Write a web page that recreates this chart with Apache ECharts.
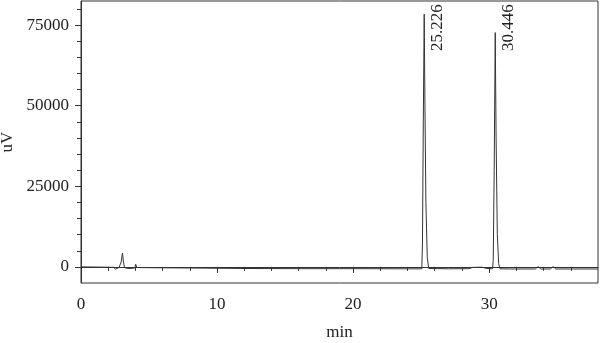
<!DOCTYPE html>
<html>
<head>
<meta charset="utf-8">
<script src="https://cdn.jsdelivr.net/npm/echarts@6/dist/echarts.min.js"></script>
<style>html,body{margin:0;padding:0;background:#fff}#c{width:600px;height:343px}</style>
</head>
<body>
<div id="c"></div>
<script>
// retention time (min)
var times = [0, 1, 2, 2.4, 2.55, 2.65, 2.8, 2.95, 3.05, 3.12, 3.2, 3.4, 3.8, 3.95, 4.02, 4.1, 5, 8, 12, 16, 20, 24,
  25.05, 25.1, 25.16, 25.226, 25.28, 25.35, 25.45, 25.56, 25.7, 27, 28.5, 28.8, 29.5, 29.8, 30.25,
  30.3, 30.37, 30.446, 30.51, 30.6, 30.7, 30.8, 31.5, 33.4, 33.6, 33.8, 34.5, 34.7, 34.9, 36, 38];
// detector signal (uV)
var signal = [0, -50, -100, -150, -700, -200, -150, 1500, 4300, 1500, -200, -500, -450, -300, 800, -200, -250, -350, -500, -550, -550, -600,
  -600, 8000, 45000, 78400, 50000, 20000, 3000, -500, -600, -600, -550, -150, -100, -500, -600,
  2000, 30000, 72700, 40000, 10000, 1000, -600, -650, -650, 100, -650, -650, 100, -650, -650, -650];
var peakTimes = [25.226, 30.446];
var peakLabels = ['25.226', '30.446'];
var peakLabelLevel = 74200;
var yMajor = [0, 25000, 50000, 75000];
var yMinor = [5000, 10000, 15000, 20000, 30000, 35000, 40000, 45000, 55000, 60000, 65000, 70000, 80000];
var xMajor = [0, 10, 20, 30];
var xMinor = [2, 4, 6, 8, 12, 14, 16, 18, 22, 24, 26, 28, 32, 34, 36];

var FONT = 'Liberation Serif';
var TXT = '#222';
var LINE = '#333';

var pts = times.map(function (t, i) { return [t, signal[i]]; });
var chart = echarts.init(document.getElementById('c'), null, {renderer: 'canvas'});
var yBase = {type: 'value', min: -5000, max: 82500, splitLine: {show: false}, position: 'left'};
var xBase = {type: 'value', min: 0, max: 38, splitLine: {show: false}, position: 'bottom'};
function plain(v) { return String(v); }
chart.setOption({
  animation: false,
  grid: {left: 81, right: 2, top: 1, bottom: 60, containLabel: false, outerBoundsMode: 'none',
    show: true, borderColor: LINE, borderWidth: 1, backgroundColor: 'transparent'},
  xAxis: [
    Object.assign({}, xBase, {
      name: 'min', nameLocation: 'middle', nameGap: 41,
      nameTextStyle: {fontFamily: FONT, fontSize: 17, color: TXT},
      axisLine: {show: true, lineStyle: {color: LINE, width: 1}},
      axisTick: {show: true, customValues: xMajor, length: 6, lineStyle: {color: LINE}},
      axisLabel: {show: true, customValues: xMajor, margin: 13, formatter: plain, fontFamily: FONT, fontSize: 17, color: TXT}
    }),
    Object.assign({}, xBase, {
      axisLine: {show: false},
      axisTick: {show: true, customValues: xMinor, length: 4, lineStyle: {color: LINE}},
      axisLabel: {show: false}
    })
  ],
  yAxis: [
    Object.assign({}, yBase, {
      name: 'uV', nameLocation: 'middle', nameGap: 61,
      nameTextStyle: {fontFamily: FONT, fontSize: 17, color: TXT},
      axisLine: {show: true, lineStyle: {color: LINE, width: 1}},
      axisTick: {show: true, customValues: yMajor, length: 6, lineStyle: {color: LINE}},
      axisLabel: {show: true, customValues: yMajor, margin: 12, formatter: plain, fontFamily: FONT, fontSize: 17, color: TXT}
    }),
    Object.assign({}, yBase, {
      axisLine: {show: false},
      axisTick: {show: true, customValues: yMinor, length: 4, lineStyle: {color: LINE}},
      axisLabel: {show: false}
    })
  ],
  series: [{
    type: 'line',
    data: pts,
    xAxisIndex: 0, yAxisIndex: 0,
    showSymbol: false, symbol: 'none',
    lineStyle: {color: LINE, width: 1},
    markPoint: {
      symbol: 'circle', symbolSize: 0,
      data: peakTimes.map(function (t, i) {
        return {coord: [t, peakLabelLevel], value: peakLabels[i]};
      }),
      label: {show: true, position: 'inside', rotate: 90, offset: [0, 13], formatter: '{c}',
        fontFamily: FONT, fontSize: 17, color: TXT}
    }
  }]
});
</script>
</body>
</html>
